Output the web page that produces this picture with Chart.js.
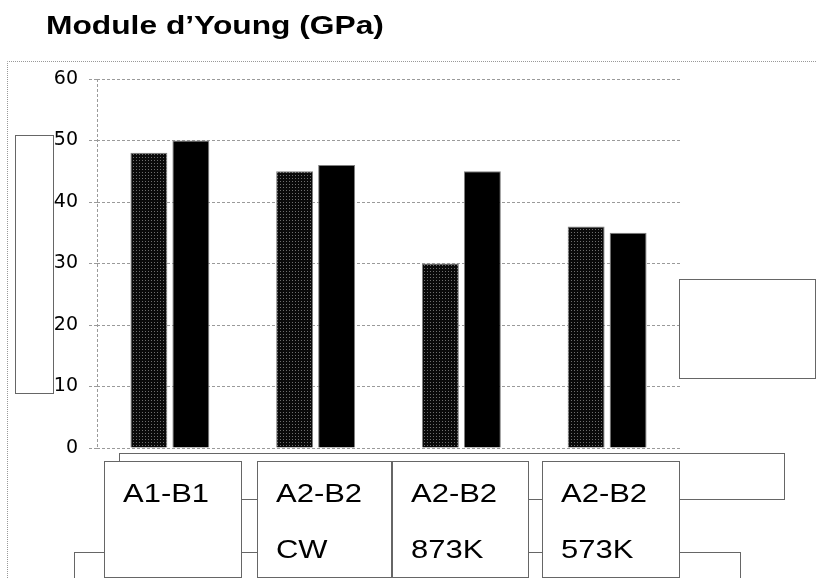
<!DOCTYPE html>
<html>
<head>
<meta charset="utf-8">
<script src="https://cdn.jsdelivr.net/npm/chart.js@4.4.0/dist/chart.umd.min.js"></script>
<style>
  html, body { margin: 0; padding: 0; background: #fff; }
  #wrap { width: 816px; height: 578px; }
</style>
</head>
<body>
<div id="wrap"><canvas id="youngChart" width="816" height="578"></canvas></div>
<script>
const chartTitle = 'Module d\u2019Young (GPa)';
const categories = [['A1-B1'], ['A2-B2', 'CW'], ['A2-B2', '873K'], ['A2-B2', '573K']];
const dottedValues = [48, 45, 30, 36];
const blackValues = [50, 46, 45, 35];
const yMin = 0;
const yMax = 60;
const yStep = 10;

// label boxes under the plot: left / right edge of each one
const labelBoxes = [[104, 241], [257, 391], [392, 528], [542, 679]];
const lineColor = '#666';
// the source text looks stretched sideways
const stretch = 1.21;
const titleStretch = 1.24;

const canvas = document.getElementById('youngChart');
const ctxMain = canvas.getContext('2d');

function makeDots(ctx) {
  const c = document.createElement('canvas');
  c.width = 3; c.height = 3;
  const g = c.getContext('2d');
  g.fillStyle = '#0a0a0a';
  g.fillRect(0, 0, 3, 3);
  g.fillStyle = '#6e6e6e';
  g.fillRect(1, 1, 1, 1);
  return ctx.createPattern(c, 'repeat');
}

const decor = {
  id: 'decor',
  beforeDraw(chart) {
    const ctx = chart.ctx;
    ctx.save();
    ctx.fillStyle = '#fff';
    ctx.fillRect(0, 0, chart.width, chart.height);
    // dotted outer frame (top and left only)
    ctx.strokeStyle = '#999';
    ctx.lineWidth = 1;
    ctx.setLineDash([1, 1]);
    ctx.beginPath();
    ctx.moveTo(chart.width, 61.5);
    ctx.lineTo(7.5, 61.5);
    ctx.lineTo(7.5, chart.height);
    ctx.stroke();
    ctx.restore();
  },
  beforeDatasetsDraw(chart) {
    const ctx = chart.ctx;
    const a = chart.chartArea;
    ctx.save();
    ctx.strokeStyle = '#9a9a9a';
    ctx.setLineDash([3, 2]);
    ctx.beginPath();
    ctx.moveTo(Math.round(a.left) + 0.5, a.top);
    ctx.lineTo(Math.round(a.left) + 0.5, a.bottom);
    ctx.stroke();
    ctx.restore();
  },
  afterDraw(chart) {
    const ctx = chart.ctx;
    ctx.save();
    ctx.setLineDash([]);
    ctx.lineWidth = 1;
    ctx.strokeStyle = lineColor;

    // empty boxes left and right
    ctx.strokeRect(15.5, 135.5, 38, 258);
    ctx.strokeRect(679.5, 279.5, 136, 99);

    // frames behind the label boxes
    ctx.strokeRect(119.5, 453.5, 665, 46);
    ctx.strokeRect(74.5, 552.5, 666, 60);

    // category label boxes
    ctx.textBaseline = 'alphabetic';
    ctx.textAlign = 'left';
    labelBoxes.forEach((b, i) => {
      ctx.fillStyle = '#fff';
      ctx.fillRect(b[0], 461, b[1] - b[0], 117);
      ctx.strokeRect(b[0] + 0.5, 461.5, b[1] - b[0], 116);
      ctx.fillStyle = '#000';
      ctx.font = '25.6px "Liberation Sans", Arial, sans-serif';
      categories[i].forEach((line, j) => {
        ctx.save();
        ctx.translate(b[0] + 19, 502 + j * 56);
        ctx.scale(stretch, 1);
        ctx.fillText(line, 0, 0);
        ctx.restore();
      });
    });

    // title
    ctx.font = 'bold 25.6px "Liberation Sans", Arial, sans-serif';
    ctx.fillStyle = '#000';
    ctx.translate(46, 34);
    ctx.scale(titleStretch, 1);
    ctx.fillText(chartTitle, 0, 0);
    ctx.restore();
  }
};

const youngChart = new Chart(ctxMain, {
  type: 'bar',
  data: {
    labels: categories,
    datasets: [
      {
        label: 'a',
        data: dottedValues,
        backgroundColor: makeDots(ctxMain),
        borderColor: '#808080',
        borderWidth: 1,
        categoryPercentage: 0.576,
        barPercentage: 0.88
      },
      {
        label: 'b',
        data: blackValues,
        backgroundColor: '#000',
        borderColor: '#808080',
        borderWidth: 1,
        categoryPercentage: 0.576,
        barPercentage: 0.88
      }
    ]
  },
  options: {
    responsive: false,
    animation: false,
    devicePixelRatio: 1,
    layout: { padding: { left: 53, top: 79, right: 136, bottom: 130 } },
    plugins: {
      legend: { display: false },
      title: { display: false },
      tooltip: { enabled: false }
    },
    scales: {
      x: { display: false },
      y: {
        min: yMin,
        max: yMax,
        afterFit(scale) { scale.width = 44; },
        ticks: {
          stepSize: yStep,
          padding: 11,
          color: '#000',
          font: { family: 'DejaVu Sans', size: 19 }
        },
        grid: {
          color: '#9a9a9a',
          tickLength: 8,
          tickColor: '#9a9a9a',
          tickBorderDash: [3, 2]
        },
        border: { display: false, dash: [3, 2] }
      }
    }
  },
  plugins: [decor]
});
</script>
</body>
</html>
